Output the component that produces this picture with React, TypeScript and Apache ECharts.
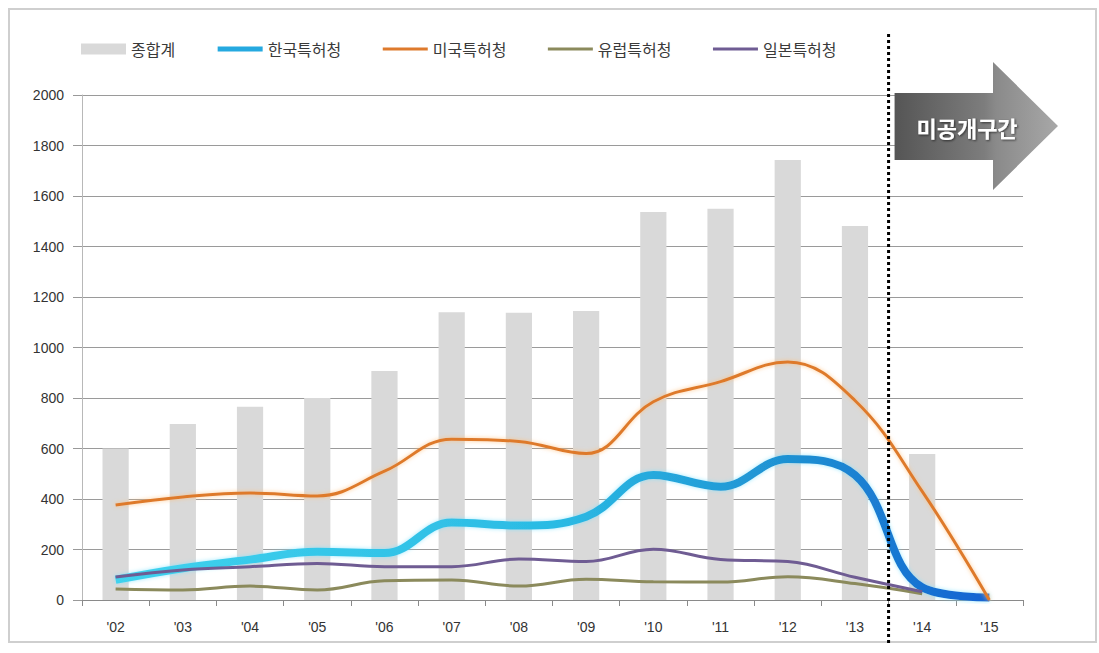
import React, { useEffect, useRef } from 'react';
import * as echarts from 'echarts';

const categories = ["'02", "'03", "'04", "'05", "'06", "'07", "'08", "'09", "'10", "'11", "'12", "'13", "'14", "'15"];
const seriesNames = ['종합계', '한국특허청', '미국특허청', '유럽특허청', '일본특허청'];
const totalValues = [600, 697, 765, 800, 907, 1140, 1138, 1145, 1537, 1550, 1743, 1481, 578, 0];
const koreaValues = [80, 126, 160, 191, 186, 307, 295, 330, 495, 449, 558, 495, 50, 10];
const usValues = [376, 408, 424, 412, 510, 637, 628, 580, 785, 865, 943, 790, 430, 0];
const europeValues = [44, 40, 55, 40, 76, 79, 55, 82, 72, 71, 92, 65, 25, null];
const japanValues = [91, 119, 132, 145, 132, 132, 162, 152, 201, 160, 152, 90, 33, null];
const yMin = 0;
const yMax = 2000;
const yInterval = 200;
const boundaryPair = ["'13", "'14"];
const arrowLabel = '미공개구간';

const FONT = '"Noto Sans CJK KR", "Noto Sans", sans-serif';
const NUMFONT = '"Liberation Sans", Arial, sans-serif';

export default function App() {
  const ref = useRef<HTMLDivElement>(null);

  useEffect(() => {
    document.body.style.margin = '0';
    if (!ref.current) return;
    const chart = echarts.init(ref.current, null, { renderer: 'svg' });

    const blueGradient = new echarts.graphic.LinearGradient(0, 0, 1, 0, [
      { offset: 0, color: '#3fd2ee' },
      { offset: 0.5, color: '#2bbbe4' },
      { offset: 0.78, color: '#1e8fd2' },
      { offset: 1, color: '#1463d2' },
    ]);
    const hidden = { opacity: 0, borderWidth: 0 };

    chart.setOption({
      animation: false,
      backgroundColor: '#ffffff',
      grid: { left: 82, right: 76, top: 95, bottom: 53, containLabel: false },
      legend: {
        left: 76,
        top: 36,
        itemWidth: 45,
        itemHeight: 11,
        itemGap: 40,
        textStyle: { fontFamily: FONT, fontSize: 16, color: '#3a3a3a' },
        data: [
          { name: seriesNames[0], icon: 'rect' },
          { name: seriesNames[1], itemStyle: hidden, lineStyle: { width: 5, color: '#25a9e0' } },
          { name: seriesNames[2], itemStyle: hidden, lineStyle: { width: 3, color: '#de7a2c' } },
          { name: seriesNames[3], itemStyle: hidden, lineStyle: { width: 3, color: '#8b8a5c' } },
          { name: seriesNames[4], itemStyle: hidden, lineStyle: { width: 3, color: '#6f5c93' } },
        ],
      },
      xAxis: {
        type: 'category',
        data: categories,
        boundaryGap: true,
        axisLine: { lineStyle: { color: '#8a8a8a', width: 1 } },
        axisTick: { show: true, length: 6, lineStyle: { color: '#8a8a8a' } },
        axisLabel: { margin: 20, fontFamily: NUMFONT, fontSize: 14, color: '#333' },
        splitLine: { show: false },
      },
      yAxis: {
        type: 'value',
        min: yMin,
        max: yMax,
        interval: yInterval,
        axisLine: { show: true, lineStyle: { color: '#b8b8b8' } },
        axisTick: { show: true, length: 9, lineStyle: { color: '#999' } },
        axisLabel: {
          margin: 18,
          fontFamily: NUMFONT,
          fontSize: 14,
          color: '#333',
          formatter: (v: number) => String(v),
        },
        splitLine: { show: true, lineStyle: { color: '#9a9a9a', width: 1 } },
      },
      series: [
        {
          name: seriesNames[0],
          type: 'bar',
          data: totalValues,
          barWidth: '39%',
          itemStyle: { color: '#d9d9d9' },
          z: 1,
        },
        {
          name: seriesNames[1],
          type: 'line',
          data: koreaValues,
          smooth: 0.4,
          symbol: 'none',
          itemStyle: { color: '#2bb5e4' },
          lineStyle: {
            width: 8,
            color: blueGradient,
            shadowColor: 'rgba(120,225,255,0.7)',
            shadowBlur: 4,
          },
          z: 3,
        },
        {
          name: seriesNames[2],
          type: 'line',
          data: usValues,
          smooth: 0.4,
          symbol: 'none',
          itemStyle: { color: '#de7a2c' },
          lineStyle: {
            width: 3,
            color: '#de7a2c',
            shadowColor: 'rgba(255,190,120,0.8)',
            shadowBlur: 4,
          },
          z: 4,
        },
        {
          name: seriesNames[3],
          type: 'line',
          data: europeValues,
          smooth: 0.4,
          symbol: 'none',
          itemStyle: { color: '#8b8a5c' },
          lineStyle: { width: 3, color: '#8b8a5c' },
          z: 5,
        },
        {
          name: seriesNames[4],
          type: 'line',
          data: japanValues,
          smooth: 0.4,
          symbol: 'none',
          itemStyle: { color: '#6f5c93' },
          lineStyle: { width: 3, color: '#6f5c93' },
          z: 6,
        },
      ],
    });

    const xa = chart.convertToPixel({ xAxisIndex: 0 }, boundaryPair[0]) as number;
    const xb = chart.convertToPixel({ xAxisIndex: 0 }, boundaryPair[1]) as number;
    const xd = (xa + xb) / 2;

    chart.setOption({
      graphic: [
        {
          type: 'rect',
          shape: { x: 9, y: 9, width: 1087, height: 633 },
          style: { fill: 'none', stroke: '#cfcfcf', lineWidth: 2 },
          silent: true,
          z: 0,
        },
        {
          type: 'line',
          shape: { x1: xd, y1: 34, x2: xd, y2: 646 },
          style: { stroke: '#000', lineWidth: 3, lineDash: [3, 3] },
          silent: true,
          z: 100,
        },
        {
          type: 'polygon',
          shape: {
            points: [
              [xd + 6, 93],
              [993, 93],
              [993, 62],
              [1058, 126],
              [993, 190],
              [993, 160],
              [xd + 6, 160],
            ],
          },
          style: {
            fill: new echarts.graphic.LinearGradient(0, 0, 1, 0, [
              { offset: 0, color: '#555555' },
              { offset: 0.55, color: '#7d7d7d' },
              { offset: 0.62, color: '#8a8a8a' },
              { offset: 1, color: '#a8a8a8' },
            ]),
          },
          silent: true,
          z: 100,
        },
        {
          type: 'text',
          x: 967,
          y: 127,
          style: {
            text: arrowLabel,
            fontFamily: FONT,
            fontSize: 22,
            fontWeight: 'bold',
            fill: '#ffffff',
            align: 'center',
            verticalAlign: 'middle',
            textShadowColor: 'rgba(0,0,0,0.6)',
            textShadowBlur: 2,
            textShadowOffsetX: 1,
            textShadowOffsetY: 1,
          },
          silent: true,
          z: 101,
        },
      ],
    });

    return () => {
      chart.dispose();
    };
  }, []);

  return <div ref={ref} style={{ width: 1099, height: 653 }} />;
}
